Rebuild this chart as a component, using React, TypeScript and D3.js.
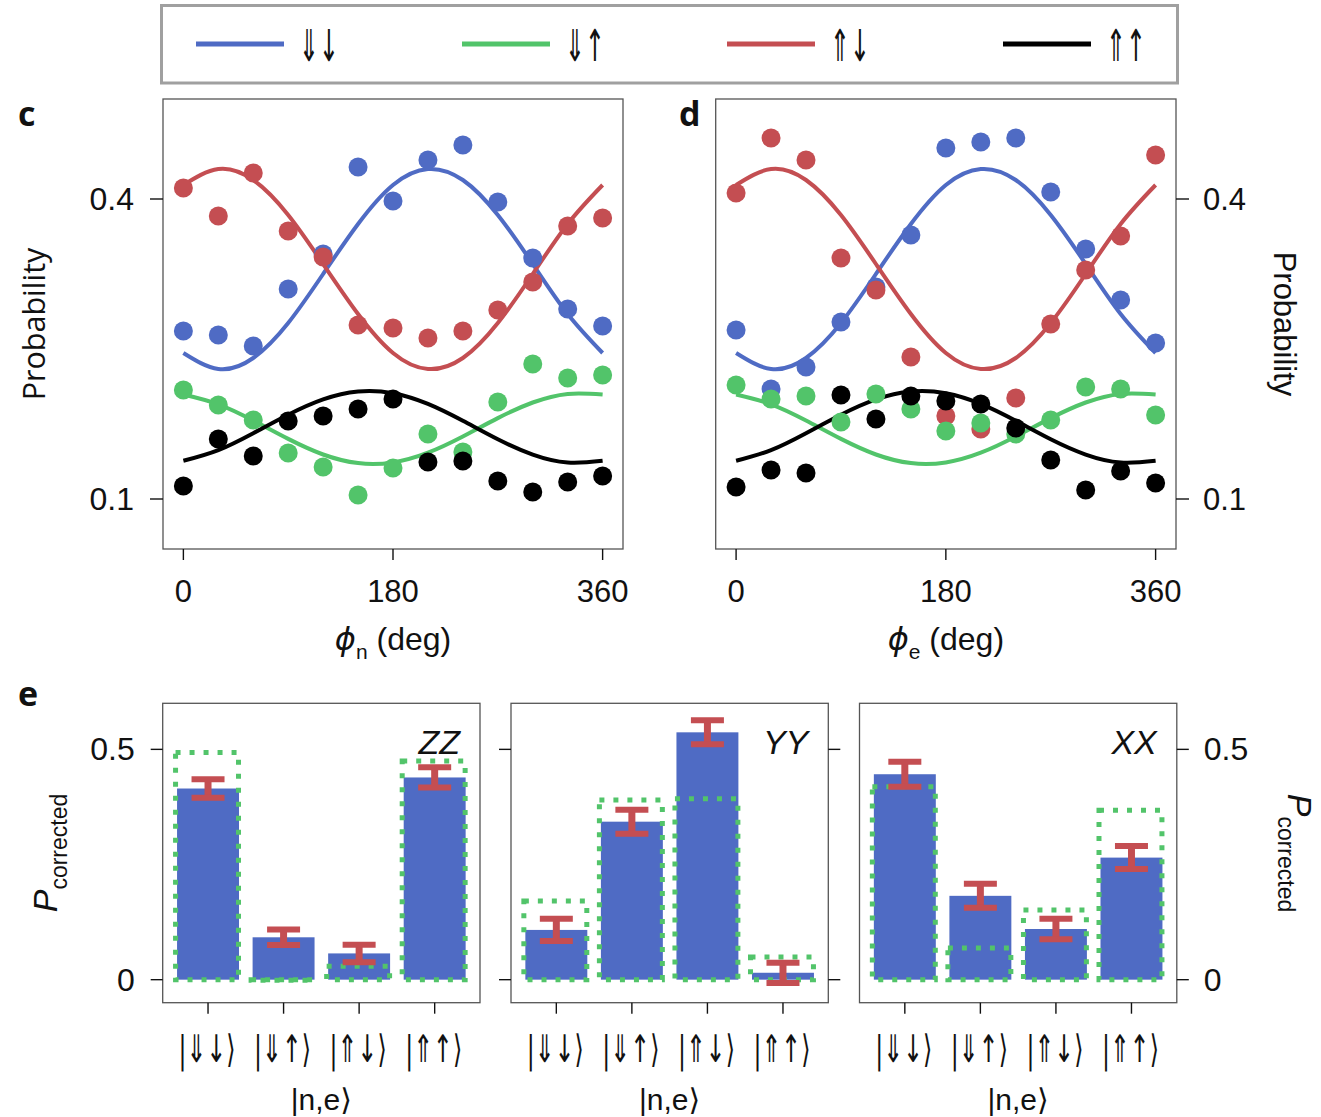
import React, { useLayoutEffect, useRef, useState } from "react";
import * as d3 from "d3";

// ---------- data ----------
const PHASES = [0, 30, 60, 90, 120, 150, 180, 210, 240, 270, 300, 330, 360];

// panel c: measured probabilities vs phi_n
const blueC = [0.268, 0.264, 0.253, 0.31, 0.345, 0.432, 0.398, 0.439, 0.454, 0.397, 0.341, 0.29, 0.273];
const redC = [0.411, 0.383, 0.426, 0.368, 0.342, 0.274, 0.271, 0.261, 0.268, 0.289, 0.317, 0.373, 0.381];
const greenC = [0.209, 0.194, 0.179, 0.146, 0.132, 0.104, 0.131, 0.165, 0.147, 0.197, 0.235, 0.221, 0.224];
const blackC = [0.113, 0.16, 0.143, 0.178, 0.183, 0.19, 0.2, 0.137, 0.138, 0.118, 0.107, 0.117, 0.123];

// panel d: measured probabilities vs phi_e
const blueD = [0.269, 0.21, 0.232, 0.277, 0.312, 0.364, 0.451, 0.457, 0.461, 0.407, 0.35, 0.299, 0.256];
const redD = [0.406, 0.461, 0.439, 0.341, 0.309, 0.242, 0.183, 0.17, 0.201, 0.275, 0.329, 0.363, 0.444];
const greenD = [0.214, 0.2, 0.203, 0.177, 0.205, 0.19, 0.168, 0.176, 0.165, 0.179, 0.212, 0.21, 0.184];
const blackD = [0.112, 0.129, 0.126, 0.204, 0.18, 0.203, 0.198, 0.195, 0.171, 0.139, 0.109, 0.128, 0.116];

// fitted curves (same sample phases)
const blueFit = [0.246, 0.23, 0.241, 0.276, 0.325, 0.375, 0.414, 0.43, 0.419, 0.384, 0.335, 0.285, 0.246];
const redFit = [0.414, 0.43, 0.419, 0.384, 0.335, 0.285, 0.246, 0.23, 0.241, 0.276, 0.325, 0.375, 0.414];
const greenFit = [0.2045, 0.1947, 0.1785, 0.1601, 0.1445, 0.1359, 0.1366, 0.1463, 0.1625, 0.1809, 0.1965, 0.2051, 0.2045];
const blackFit = [0.1382, 0.1489, 0.1658, 0.1843, 0.1996, 0.2075, 0.2058, 0.1951, 0.1782, 0.1597, 0.1444, 0.1365, 0.1382];

const phaseTicks = [0, 180, 360];
const probTicks = [0.1, 0.4];

const LEGEND_LABELS = ["⇓↓", "⇓↑", "⇑↓", "⇑↑"];

// panel e: corrected populations
const KETS = ["|⇓↓⟩", "|⇓↑⟩", "|⇑↓⟩", "|⇑↑⟩"];
const zzValues = [0.415, 0.092, 0.057, 0.439];
const zzErrors = [0.02, 0.017, 0.019, 0.022];
const zzIdeal = [0.493, 0.0, 0.029, 0.475];
const yyValues = [0.108, 0.343, 0.537, 0.015];
const yyErrors = [0.024, 0.026, 0.026, 0.022];
const yyIdeal = [0.171, 0.39, 0.393, 0.049];
const xxValues = [0.446, 0.182, 0.11, 0.265];
const xxErrors = [0.027, 0.026, 0.0225, 0.025];
const xxIdeal = [0.419, 0.069, 0.151, 0.368];
const barTicks = [0, 0.5];

// ---------- style ----------
const BLUE = "#4f6bc4";
const RED = "#c44e52";
const GREEN = "#52c46a";
const BLACK = "#000000";
const FRAME = "#555555";
const NUM_FONT = "'Liberation Sans', Arial, Helvetica, sans-serif";
const ARROW_FONT = "'DejaVu Sans', sans-serif";
const LABEL_FONT = "'Open Sans', 'Liberation Sans', sans-serif";

type Series = { color: string; values: number[]; fit: number[] };

// Spin arrows: drawn at full size, then squeezed horizontally to a set width
// so that they come out tall and thin.
function Arrows(props: { x: number; y: number; text: string; width: number; size: number; anchor?: string }) {
  const { x, y, text, width, size, anchor } = props;
  const ref = useRef<SVGTextElement>(null);
  const [sx, setSx] = useState(width / (size * 0.84 * [...text].length));
  useLayoutEffect(() => {
    if (ref.current) {
      const natural = ref.current.getComputedTextLength();
      if (natural > 0) setSx(width / natural);
    }
  }, [text, width, size]);
  return (
    <text
      ref={ref}
      transform={`translate(${x},${y}) scale(${sx},1)`}
      textAnchor={anchor || "start"}
      fontFamily={ARROW_FONT}
      fontSize={size}
      fill="#111"
    >
      {text}
    </text>
  );
}

function PhasePanel(props: {
  left: number;
  right: number;
  series: Series[];
  axisSide: "left" | "right";
  letter: string;
  sub: string;
}) {
  const { left, right, series, axisSide, letter, sub } = props;
  const top = 99;
  const bottom = 549;
  const x = d3.scaleLinear().domain([-17.5, 377.5]).range([left, right]);
  const y = d3.scaleLinear().domain([0.05, 0.5]).range([bottom, top]);
  const line = d3
    .line<number>()
    .x((_, i) => x(PHASES[i]))
    .y((v) => y(v))
    .curve(d3.curveNatural);
  const drawOrder = [0, 2, 1, 3]; // blue, red, green, black
  const cx = (left + right) / 2;
  const cy = (top + bottom) / 2;
  return (
    <g>
      {series.map((s, k) => (
        <path key={"f" + k} d={line(s.fit) || ""} fill="none" stroke={s.color} strokeWidth={4} />
      ))}
      {drawOrder.map((k) =>
        series[k].values.map((v, i) => (
          <circle key={k + "-" + i} cx={x(PHASES[i])} cy={y(v)} r={9.5} fill={series[k].color} />
        ))
      )}
      <rect x={left} y={top} width={right - left} height={bottom - top} fill="none" stroke={FRAME} strokeWidth={1.3} />
      {phaseTicks.map((t) => (
        <g key={"xt" + t}>
          <line x1={x(t)} x2={x(t)} y1={bottom} y2={bottom + 11} stroke="#111" strokeWidth={1.4} />
          <text x={x(t)} y={602} textAnchor="middle" fontFamily={NUM_FONT} fontSize={31} fill="#111">
            {t}
          </text>
        </g>
      ))}
      {probTicks.map((t) =>
        axisSide === "left" ? (
          <g key={"yt" + t}>
            <line x1={left - 13} x2={left} y1={y(t)} y2={y(t)} stroke="#111" strokeWidth={1.4} />
            <text x={left - 29} y={y(t) + 11} textAnchor="end" fontFamily={NUM_FONT} fontSize={32} fill="#111">
              {t}
            </text>
          </g>
        ) : (
          <g key={"yt" + t}>
            <line x1={right} x2={right + 13} y1={y(t)} y2={y(t)} stroke="#111" strokeWidth={1.4} />
            <text x={right + 27} y={y(t) + 11} textAnchor="start" fontFamily={NUM_FONT} fontSize={31} fill="#111">
              {t}
            </text>
          </g>
        )
      )}
      {axisSide === "left" ? (
        <text
          transform={`translate(45,${cy}) rotate(-90)`}
          textAnchor="middle"
          fontFamily={LABEL_FONT}
          fontSize={30.5}
          fill="#111"
        >
          Probability
        </text>
      ) : (
        <text
          transform={`translate(1274,${cy}) rotate(90)`}
          textAnchor="middle"
          fontFamily={NUM_FONT}
          fontSize={31}
          fill="#111"
        >
          Probability
        </text>
      )}
      <text x={cx} y={650} textAnchor="middle" fontFamily={NUM_FONT} fontSize={32} fill="#111">
        <tspan fontStyle="italic" fontFamily="'DejaVu Sans', sans-serif">ϕ</tspan>
        <tspan fontSize={21} dy={9}>
          {sub}
        </tspan>
        <tspan dy={-9}> (deg)</tspan>
      </text>
      <text
        x={axisSide === "left" ? 18 : 679}
        y={126}
        fontFamily={LABEL_FONT}
        fontWeight="bold"
        fontSize={34}
        fill="#111"
      >
        {letter}
      </text>
    </g>
  );
}

function BarPanel(props: {
  left: number;
  values: number[];
  errors: number[];
  ideal: number[];
  name: string;
  tickLeft: boolean;
  tickRight: boolean;
  labelLeft: boolean;
  labelRight: boolean;
}) {
  const { left, values, errors, ideal, name, tickLeft, tickRight, labelLeft, labelRight } = props;
  const width = 317.3;
  const right = left + width;
  const top = 703.3;
  const bottom = 1002.7;
  const x = d3.scaleLinear().domain([0.4, 4.6]).range([left, right]);
  const y = d3.scaleLinear().domain([-0.05, 0.6]).range([bottom, top]);
  const half = x(1.41) - x(1);
  const capHalf = 16.5;
  return (
    <g>
      {values.map((v, i) => {
        const c = x(i + 1);
        return (
          <rect key={"b" + i} x={c - half} y={y(v)} width={2 * half} height={y(0) - y(v)} fill={BLUE} />
        );
      })}
      {ideal.map((v, i) => {
        const c = x(i + 1);
        return (
          <rect
            key={"g" + i}
            x={c - half - 1.5}
            y={y(v)}
            width={2 * half + 1}
            height={Math.max(y(0) - y(v), 0.5)}
            fill="none"
            stroke={GREEN}
            strokeWidth={5}
            strokeDasharray="5 9"
          />
        );
      })}
      {values.map((v, i) => {
        const c = x(i + 1);
        const e = errors[i];
        return (
          <g key={"e" + i} stroke={RED}>
            <line x1={c} x2={c} y1={y(v - e)} y2={y(v + e)} strokeWidth={7} />
            <line x1={c - capHalf} x2={c + capHalf} y1={y(v + e)} y2={y(v + e)} strokeWidth={6} />
            <line x1={c - capHalf} x2={c + capHalf} y1={y(v - e)} y2={y(v - e)} strokeWidth={6} />
          </g>
        );
      })}
      <rect x={left} y={top} width={width} height={bottom - top} fill="none" stroke={FRAME} strokeWidth={1.3} />
      <text
        x={right - 20}
        y={754}
        textAnchor="end"
        fontFamily={NUM_FONT}
        fontStyle="italic"
        fontSize={34}
        fill="#111"
      >
        {name}
      </text>
      {KETS.map((k, i) => (
        <g key={"k" + i}>
          <line x1={x(i + 1)} x2={x(i + 1)} y1={bottom} y2={bottom + 11} stroke="#111" strokeWidth={1.4} />
          <Arrows x={x(i + 1) - 1} y={1062} text={k} width={57} size={38} anchor="middle" />
        </g>
      ))}
      <text x={(left + right) / 2} y={1110} textAnchor="middle" fontFamily={NUM_FONT} fontSize={30} fill="#111">
        |n,e
        <tspan fontFamily={ARROW_FONT}>⟩</tspan>
      </text>
      {barTicks.map((t) => (
        <g key={"yt" + t}>
          {tickLeft && <line x1={left - 12} x2={left} y1={y(t)} y2={y(t)} stroke="#111" strokeWidth={1.4} />}
          {tickRight && <line x1={right} x2={right + 12} y1={y(t)} y2={y(t)} stroke="#111" strokeWidth={1.4} />}
          {labelLeft && (
            <text x={left - 28} y={y(t) + 11} textAnchor="end" fontFamily={NUM_FONT} fontSize={32} fill="#111">
              {t}
            </text>
          )}
          {labelRight && (
            <text x={right + 27} y={y(t) + 11} textAnchor="start" fontFamily={NUM_FONT} fontSize={32} fill="#111">
              {t}
            </text>
          )}
        </g>
      ))}
    </g>
  );
}

export default function App() {
  const seriesC: Series[] = [
    { color: BLUE, values: blueC, fit: blueFit },
    { color: GREEN, values: greenC, fit: greenFit },
    { color: RED, values: redC, fit: redFit },
    { color: BLACK, values: blackC, fit: blackFit },
  ];
  const seriesD: Series[] = [
    { color: BLUE, values: blueD, fit: blueFit },
    { color: GREEN, values: greenD, fit: greenFit },
    { color: RED, values: redD, fit: redFit },
    { color: BLACK, values: blackD, fit: blackFit },
  ];
  const legendColors = [BLUE, GREEN, RED, BLACK];
  const legendX = [196, 462, 727, 1003];
  const eCenterY = 853;
  return (
    <svg
      width={1321}
      height={1117}
      style={{ position: "absolute", left: 0, top: 0, background: "#fff" }}
    >
      <rect x={0} y={0} width={1321} height={1117} fill="#fff" />
      {/* legend */}
      <rect x={161.5} y={5.5} width={1016} height={77.5} fill="none" stroke="#a0a0a0" strokeWidth={3} />
      {LEGEND_LABELS.map((lab, i) => (
        <g key={"lg" + i}>
          <line x1={legendX[i]} x2={legendX[i] + 88} y1={44} y2={44} stroke={legendColors[i]} strokeWidth={5} />
          <Arrows x={legendX[i] + 103} y={61} text={lab} width={40} size={44} />
        </g>
      ))}

      <PhasePanel left={163} right={623} series={seriesC} axisSide="left" letter="c" sub="n" />
      <PhasePanel left={715.7} right={1176} series={seriesD} axisSide="right" letter="d" sub="e" />

      <text x={18} y={706} fontFamily={LABEL_FONT} fontWeight="bold" fontSize={34} fill="#111">
        e
      </text>
      <BarPanel
        left={162.7}
        values={zzValues}
        errors={zzErrors}
        ideal={zzIdeal}
        name="ZZ"
        tickLeft={true}
        tickRight={false}
        labelLeft={true}
        labelRight={false}
      />
      <BarPanel
        left={511}
        values={yyValues}
        errors={yyErrors}
        ideal={yyIdeal}
        name="YY"
        tickLeft={true}
        tickRight={true}
        labelLeft={false}
        labelRight={false}
      />
      <BarPanel
        left={859.5}
        values={xxValues}
        errors={xxErrors}
        ideal={xxIdeal}
        name="XX"
        tickLeft={false}
        tickRight={true}
        labelLeft={false}
        labelRight={true}
      />
      {/* P_corrected axis titles */}
      <text
        transform={`translate(57,${eCenterY}) rotate(-90)`}
        textAnchor="middle"
        fontFamily={NUM_FONT}
        fontSize={34}
        fill="#111"
      >
        <tspan fontStyle="italic">P</tspan>
        <tspan fontSize={23} dy={10}>
          corrected
        </tspan>
      </text>
      <text
        transform={`translate(1288,${eCenterY}) rotate(90)`}
        textAnchor="middle"
        fontFamily={NUM_FONT}
        fontSize={34}
        fill="#111"
      >
        <tspan fontStyle="italic">P</tspan>
        <tspan fontSize={23} dy={10}>
          corrected
        </tspan>
      </text>
    </svg>
  );
}
